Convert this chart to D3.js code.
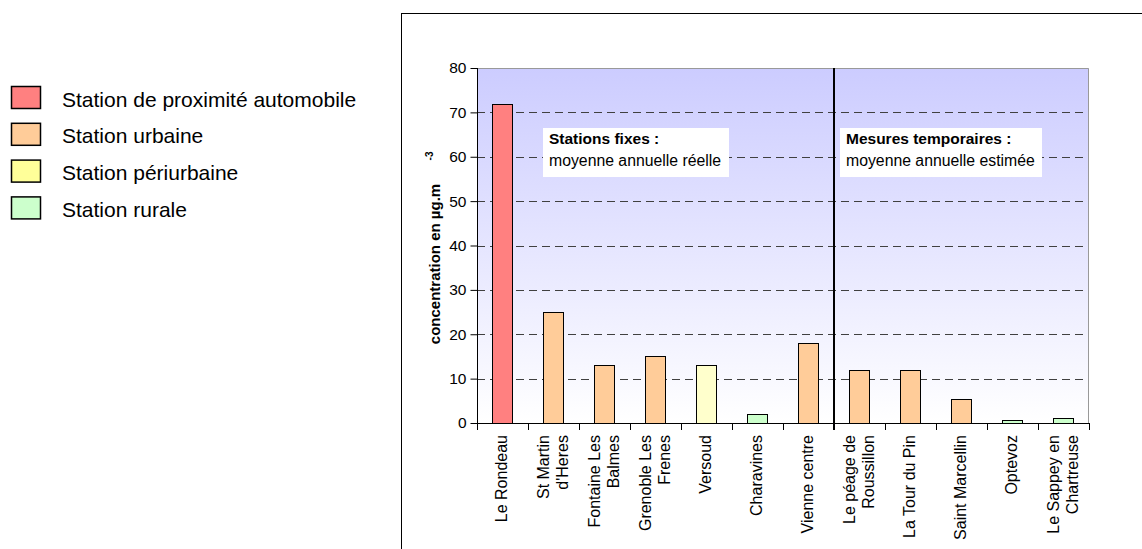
<!DOCTYPE html>
<html>
<head>
<meta charset="utf-8">
<script src="https://cdn.jsdelivr.net/npm/d3@7"></script>
<style>
  html, body { margin: 0; padding: 0; background: #fff; }
  svg { display: block; font-family: "Liberation Sans", Arial, sans-serif; }
</style>
</head>
<body>
<svg id="chart" width="1142" height="549"></svg>
<script>
// ---- data ----
const categories = [
  "Le Rondeau", "St Martin\nd'Heres", "Fontaine Les\nBalmes", "Grenoble Les\nFrenes",
  "Versoud", "Charavines", "Vienne centre", "Le péage de\nRoussillon",
  "La Tour du Pin", "Saint Marcellin", "Optevoz", "Le Sappey en\nChartreuse"
];
const values = [72, 25, 13, 15, 13, 2, 18, 12, 12, 5.3, 0.6, 1.1];
const stationTypes = ["auto", "urbaine", "urbaine", "urbaine", "periurbaine", "rurale",
  "urbaine", "urbaine", "urbaine", "urbaine", "rurale", "rurale"];
const yTicks = [0, 10, 20, 30, 40, 50, 60, 70, 80];
const legendKeys = ["auto", "urbaine", "periurbaine", "rurale"];
const legendLabels = ["Station de proximité automobile", "Station urbaine", "Station périurbaine", "Station rurale"];
const dividerAfter = "Vienne centre";
const notes = [
  { title: "Stations fixes :", sub: "moyenne annuelle réelle" },
  { title: "Mesures temporaires :", sub: "moyenne annuelle estimée" }
];

// ---- styles ----
const barColor = { auto: "#FF8080", urbaine: "#FFCC99", periurbaine: "#FFFFCC", rurale: "#CCFFCC" };
const legendColor = { auto: "#FF8080", urbaine: "#FFCC99", periurbaine: "#FFFF99", rurale: "#CCFFCC" };

const svg = d3.select("#chart");
const plot = { left: 477, right: 1089, top: 68, bottom: 423 };

// outer frame
svg.append("rect").attr("x", 401.5).attr("y", 13.5).attr("width", 900).attr("height", 700)
  .attr("fill", "none").attr("stroke", "#000").attr("stroke-width", 1);

const x = d3.scaleBand().domain(categories).range([plot.left, plot.right]).paddingInner(0.6).paddingOuter(0.3);
const y = d3.scaleLinear().domain([0, 80]).range([plot.bottom, plot.top]);

// gradient background
const defs = svg.append("defs");
const grad = defs.append("linearGradient").attr("id", "bg").attr("x1", 0).attr("y1", 0).attr("x2", 0).attr("y2", 1);
grad.append("stop").attr("offset", "0%").attr("stop-color", "#CCCCFF");
grad.append("stop").attr("offset", "100%").attr("stop-color", "#FFFFFF");
svg.append("rect").attr("x", plot.left).attr("y", plot.top)
  .attr("width", plot.right - plot.left).attr("height", plot.bottom - plot.top)
  .attr("fill", "url(#bg)");

// gridlines
svg.append("g").selectAll("line").data(yTicks.filter(d => d > 0 && d < 80)).join("line")
  .attr("x1", plot.left).attr("x2", plot.right)
  .attr("y1", d => Math.round(y(d)) + 0.5).attr("y2", d => Math.round(y(d)) + 0.5)
  .attr("stroke", "#404040").attr("stroke-width", 1).attr("stroke-dasharray", "8,5");

// plot border (top/right)
svg.append("path")
  .attr("d", `M${plot.left},${plot.top + 0.5}H${plot.right - 0.5}V${plot.bottom}`)
  .attr("fill", "none").attr("stroke", "#999").attr("stroke-width", 1);

// note boxes
const noteX = [543, 840];
const noteW = [186, 202];
notes.forEach((n, i) => {
  const g = svg.append("g");
  g.append("rect").attr("x", noteX[i]).attr("y", 128).attr("width", noteW[i]).attr("height", 49).attr("fill", "#fff");
  g.append("text").attr("x", noteX[i] + 6).attr("y", 144).attr("font-size", 15.5).attr("font-weight", "bold").text(n.title);
  g.append("text").attr("x", noteX[i] + 6).attr("y", 166).attr("font-size", 15.8).text(n.sub);
});

// bars
svg.append("g").selectAll("rect").data(categories).join("rect")
  .attr("x", d => Math.round(x(d)) + 0.5)
  .attr("y", (d, i) => Math.round(y(values[i])) + 0.5)
  .attr("width", Math.round(x.bandwidth()))
  .attr("height", (d, i) => Math.round(y(0)) - Math.round(y(values[i])))
  .attr("fill", (d, i) => barColor[stationTypes[i]])
  .attr("stroke", "#000").attr("stroke-width", 1);

// divider line
const divPos = plot.left + (categories.indexOf(dividerAfter) + 1) * (plot.right - plot.left) / categories.length;
svg.append("line").attr("x1", divPos).attr("x2", divPos).attr("y1", plot.top).attr("y2", plot.bottom + 7)
  .attr("stroke", "#000").attr("stroke-width", 2);

// y axis
const yAxis = d3.axisLeft(y).tickValues(yTicks).tickSize(7).tickPadding(4);
const yg = svg.append("g").attr("transform", `translate(${plot.left + 0.5},0)`).call(yAxis);
yg.select(".domain").attr("d", `M0,${plot.top}V${plot.bottom}`).attr("stroke", "#000");
yg.selectAll(".tick line").attr("stroke", "#000");
yg.selectAll("text").attr("font-size", 15.5).attr("fill", "#000").attr("font-family", "Liberation Sans, Arial, sans-serif");

// x axis (ticks at band boundaries)
const boundaries = d3.range(categories.length + 1).map(i => plot.left + i * (plot.right - plot.left) / categories.length);
const xg = svg.append("g");
xg.append("line").attr("x1", plot.left).attr("x2", plot.right + 0.5)
  .attr("y1", plot.bottom + 0.5).attr("y2", plot.bottom + 0.5).attr("stroke", "#000");
xg.selectAll("line.tk").data(boundaries).join("line").attr("class", "tk")
  .attr("x1", d => Math.round(d) + 0.5).attr("x2", d => Math.round(d) + 0.5)
  .attr("y1", plot.bottom).attr("y2", plot.bottom + 7).attr("stroke", "#000");

// x labels
const lineH = 19;
const lab = svg.append("g").selectAll("g").data(categories).join("g")
  .attr("transform", d => `translate(${x(d) + x.bandwidth() / 2 - 1},435) rotate(-90)`);
lab.each(function (d) {
  const lines = d.split("\n");
  const t = d3.select(this).append("text").attr("text-anchor", "end").attr("font-size", 16).attr("fill", "#000");
  lines.forEach((l, i) => {
    t.append("tspan").attr("x", 0).attr("y", (i - (lines.length - 1) / 2) * lineH)
      .attr("dominant-baseline", "central").text(l);
  });
});

// y title
svg.append("text").attr("transform", "translate(434,264) rotate(-90)")
  .attr("text-anchor", "middle").attr("dominant-baseline", "central")
  .attr("font-size", 15).attr("font-weight", "bold").text("concentration en µg.m");
svg.append("text").attr("transform", "translate(429,156) rotate(-90)")
  .attr("text-anchor", "middle").attr("dominant-baseline", "central")
  .attr("font-size", 10).attr("font-weight", "bold").text("-3");

// legend
const lg = svg.append("g").selectAll("g").data(legendKeys).join("g")
  .attr("transform", (d, i) => `translate(0,${86 + i * 36.8})`);
lg.append("rect").attr("x", 11.5).attr("y", 0.5).attr("width", 29).attr("height", 22)
  .attr("fill", d => legendColor[d]).attr("stroke", "#000").attr("stroke-width", 1.5);
lg.append("text").attr("x", 62).attr("y", 13).attr("dominant-baseline", "central")
  .attr("font-size", 21).attr("fill", "#000").text((d, i) => legendLabels[i]);
</script>
</body>
</html>
